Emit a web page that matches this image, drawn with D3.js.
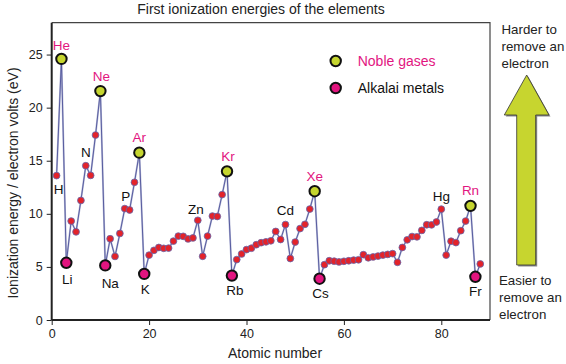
<!DOCTYPE html>
<html><head><meta charset="utf-8">
<script src="https://cdn.jsdelivr.net/npm/d3@7"></script>
<style>body{margin:0;background:#fff}svg{display:block;font-family:"Liberation Sans",Arial,sans-serif}</style>
</head><body><svg id="c" width="566" height="364"></svg>
<script>
const atomicNumbers = d3.range(1, 89);
const ionizationEnergy = [13.60,24.59,5.39,9.32,8.30,11.26,14.53,13.62,17.42,21.56,
5.14,7.65,5.99,8.15,10.49,10.36,12.97,15.76,4.34,6.11,
6.56,6.83,6.75,6.77,7.43,7.90,7.88,7.64,7.73,9.39,
6.00,7.90,9.79,9.75,11.81,14.00,4.18,5.69,6.22,6.63,
6.76,7.09,7.28,7.36,7.46,8.34,7.58,8.99,5.79,7.34,
8.61,9.01,10.45,12.13,3.89,5.21,5.58,5.54,5.47,5.53,
5.58,5.64,5.67,6.15,5.86,5.94,6.02,6.11,6.18,6.25,
5.43,6.83,7.55,7.86,7.83,8.44,8.97,8.96,9.23,10.44,
6.11,7.42,7.29,8.41,9.32,10.75,4.07,5.28];
const nobleGases = [2,10,18,36,54,86];
const alkaliMetals = [3,11,19,37,55,87];
const labelledElements = [
 {z:1,s:"H"},{z:2,s:"He"},{z:3,s:"Li"},{z:7,s:"N"},{z:10,s:"Ne"},{z:11,s:"Na"},
 {z:15,s:"P"},{z:18,s:"Ar"},{z:19,s:"K"},{z:30,s:"Zn"},{z:36,s:"Kr"},{z:37,s:"Rb"},
 {z:48,s:"Cd"},{z:54,s:"Xe"},{z:55,s:"Cs"},{z:80,s:"Hg"},{z:86,s:"Rn"},{z:87,s:"Fr"}];
const xTicks = [0,20,40,60,80];
const yTicks = [0,5,10,15,20,25];

// label offsets (layout)
const labelOffset = {H:[2,14],He:[0,-14],Li:[1,17],N:[0,-13],Ne:[1,-15],Na:[5,18],
 P:[1,-12],Ar:[0,-15],K:[1,15],Zn:[-2,-11],Kr:[1,-15],Rb:[3,15],Cd:[0,-14],Xe:[0,-15],
 Cs:[1,15],Hg:[0,-13],Rn:[0,-16],Fr:[0,14]};

const data = atomicNumbers.map((z,i)=>({z, e:ionizationEnergy[i]}));
const svg = d3.select("#c");
const x = d3.scaleLinear().domain([0,90]).range([51.7,490]);
const y = d3.scaleLinear().domain([0,28]).range([320,22.7]);

// frame top/right
svg.append("path").attr("d",`M${x(0)},${y(28)}H${x(90)}V${y(0)}`)
  .attr("fill","none").attr("stroke","#444").attr("stroke-width",1.2);

// axes
const xAxis = svg.append("g").attr("transform",`translate(0,${y(0)})`)
  .call(d3.axisBottom(x).tickValues(xTicks).tickSize(5).tickPadding(4));
const yAxis = svg.append("g").attr("transform",`translate(${x(0)},0)`)
  .call(d3.axisLeft(y).tickValues(yTicks).tickSize(5).tickPadding(4));
[xAxis,yAxis].forEach(g=>{
  g.select(".domain").attr("stroke","#222").attr("stroke-width",2);
  g.selectAll(".tick line").attr("stroke","#222").attr("stroke-width",1);
  g.selectAll(".tick text").attr("font-size",12.5).attr("fill","#222")
   .attr("font-family","'Liberation Sans',Arial,sans-serif");
});
xAxis.select(".domain").attr("d",`M${x(0)},0H${x(90)}`);
yAxis.select(".domain").attr("d",`M0,${y(0)}V${y(28)}`);

// line
const line = d3.line().x(d=>x(d.z)).y(d=>y(d.e));
svg.append("path").datum(data).attr("d",line).attr("fill","none")
  .attr("stroke","#b9bcd9").attr("stroke-width",1.9);
svg.append("path").datum(data).attr("d",line).attr("fill","none")
  .attr("stroke","#3f4490").attr("stroke-width",0.8);

// dots
const special = new Set([...nobleGases,...alkaliMetals]);
svg.append("g").selectAll("circle").data(data.filter(d=>!special.has(d.z))).join("circle")
  .attr("cx",d=>x(d.z)).attr("cy",d=>y(d.e)).attr("r",3.4)
  .attr("fill","#e3232a").attr("stroke","#6267ad").attr("stroke-width",0.8);
svg.append("g").selectAll("circle").data(data.filter(d=>nobleGases.includes(d.z))).join("circle")
  .attr("cx",d=>x(d.z)).attr("cy",d=>y(d.e)).attr("r",5.2)
  .attr("fill","#c5d52f").attr("stroke","#111").attr("stroke-width",2);
svg.append("g").selectAll("circle").data(data.filter(d=>alkaliMetals.includes(d.z))).join("circle")
  .attr("cx",d=>x(d.z)).attr("cy",d=>y(d.e)).attr("r",5.2)
  .attr("fill","#e2147f").attr("stroke","#111").attr("stroke-width",2);

// element labels
svg.append("g").selectAll("text").data(labelledElements).join("text")
  .attr("x",d=>x(d.z)+labelOffset[d.s][0])
  .attr("y",d=>y(ionizationEnergy[d.z-1])+labelOffset[d.s][1])
  .attr("dy","0.35em").attr("text-anchor","middle").attr("font-size",13.5)
  .attr("fill",d=>nobleGases.includes(d.z)?"#e2157f":"#111").text(d=>d.s);

// title
svg.append("text").attr("x",261).attr("y",14).attr("text-anchor","middle")
  .attr("font-size",14).attr("fill","#222").text("First ionization energies of the elements");
// axis titles
svg.append("text").attr("x",275).attr("y",358).attr("text-anchor","middle")
  .attr("font-size",14).attr("fill","#222").text("Atomic number");
svg.append("text").attr("transform","translate(18,183) rotate(-90)").attr("text-anchor","middle")
  .attr("font-size",14).attr("fill","#222").text("Ionization energy / electron volts (eV)");

// legend
const legend = [{t:"Noble gases",f:"#c5d52f",c:"#e2157f"},{t:"Alkalai metals",f:"#e2147f",c:"#111"}];
const lg = svg.append("g").selectAll("g").data(legend).join("g")
  .attr("transform",(d,i)=>`translate(335.7,${61+i*27})`);
lg.append("circle").attr("r",5.2).attr("fill",d=>d.f).attr("stroke","#111").attr("stroke-width",2);
lg.append("text").attr("x",22).attr("dy","0.35em").attr("font-size",14).attr("fill",d=>d.c).text(d=>d.t);

// arrow
const arrowPts = [[526.7,75],[549,115],[535.7,115],[535.7,265],[516.7,265],[516.7,115],[504.3,115]];
svg.append("polygon").attr("points",arrowPts.map(p=>[p[0]+1.5,p[1]+1.5].join(",")).join(" "))
  .attr("fill","#888");
svg.append("polygon").attr("points",arrowPts.map(p=>p.join(",")).join(" "))
  .attr("fill","#c7d52f").attr("stroke","#333").attr("stroke-width",0.8);

const topText = ["Harder to","remove an","electron"];
const botText = ["Easier to","remove an","electron"];
svg.append("g").selectAll("text").data(topText).join("text")
  .attr("x",501.5).attr("y",(d,i)=>29+i*17).attr("dy","0.35em").attr("font-size",13.3)
  .attr("fill","#222").text(d=>d);
svg.append("g").selectAll("text").data(botText).join("text")
  .attr("x",499).attr("y",(d,i)=>280+i*17).attr("dy","0.35em").attr("font-size",13.3)
  .attr("fill","#222").text(d=>d);
</script></body></html>
